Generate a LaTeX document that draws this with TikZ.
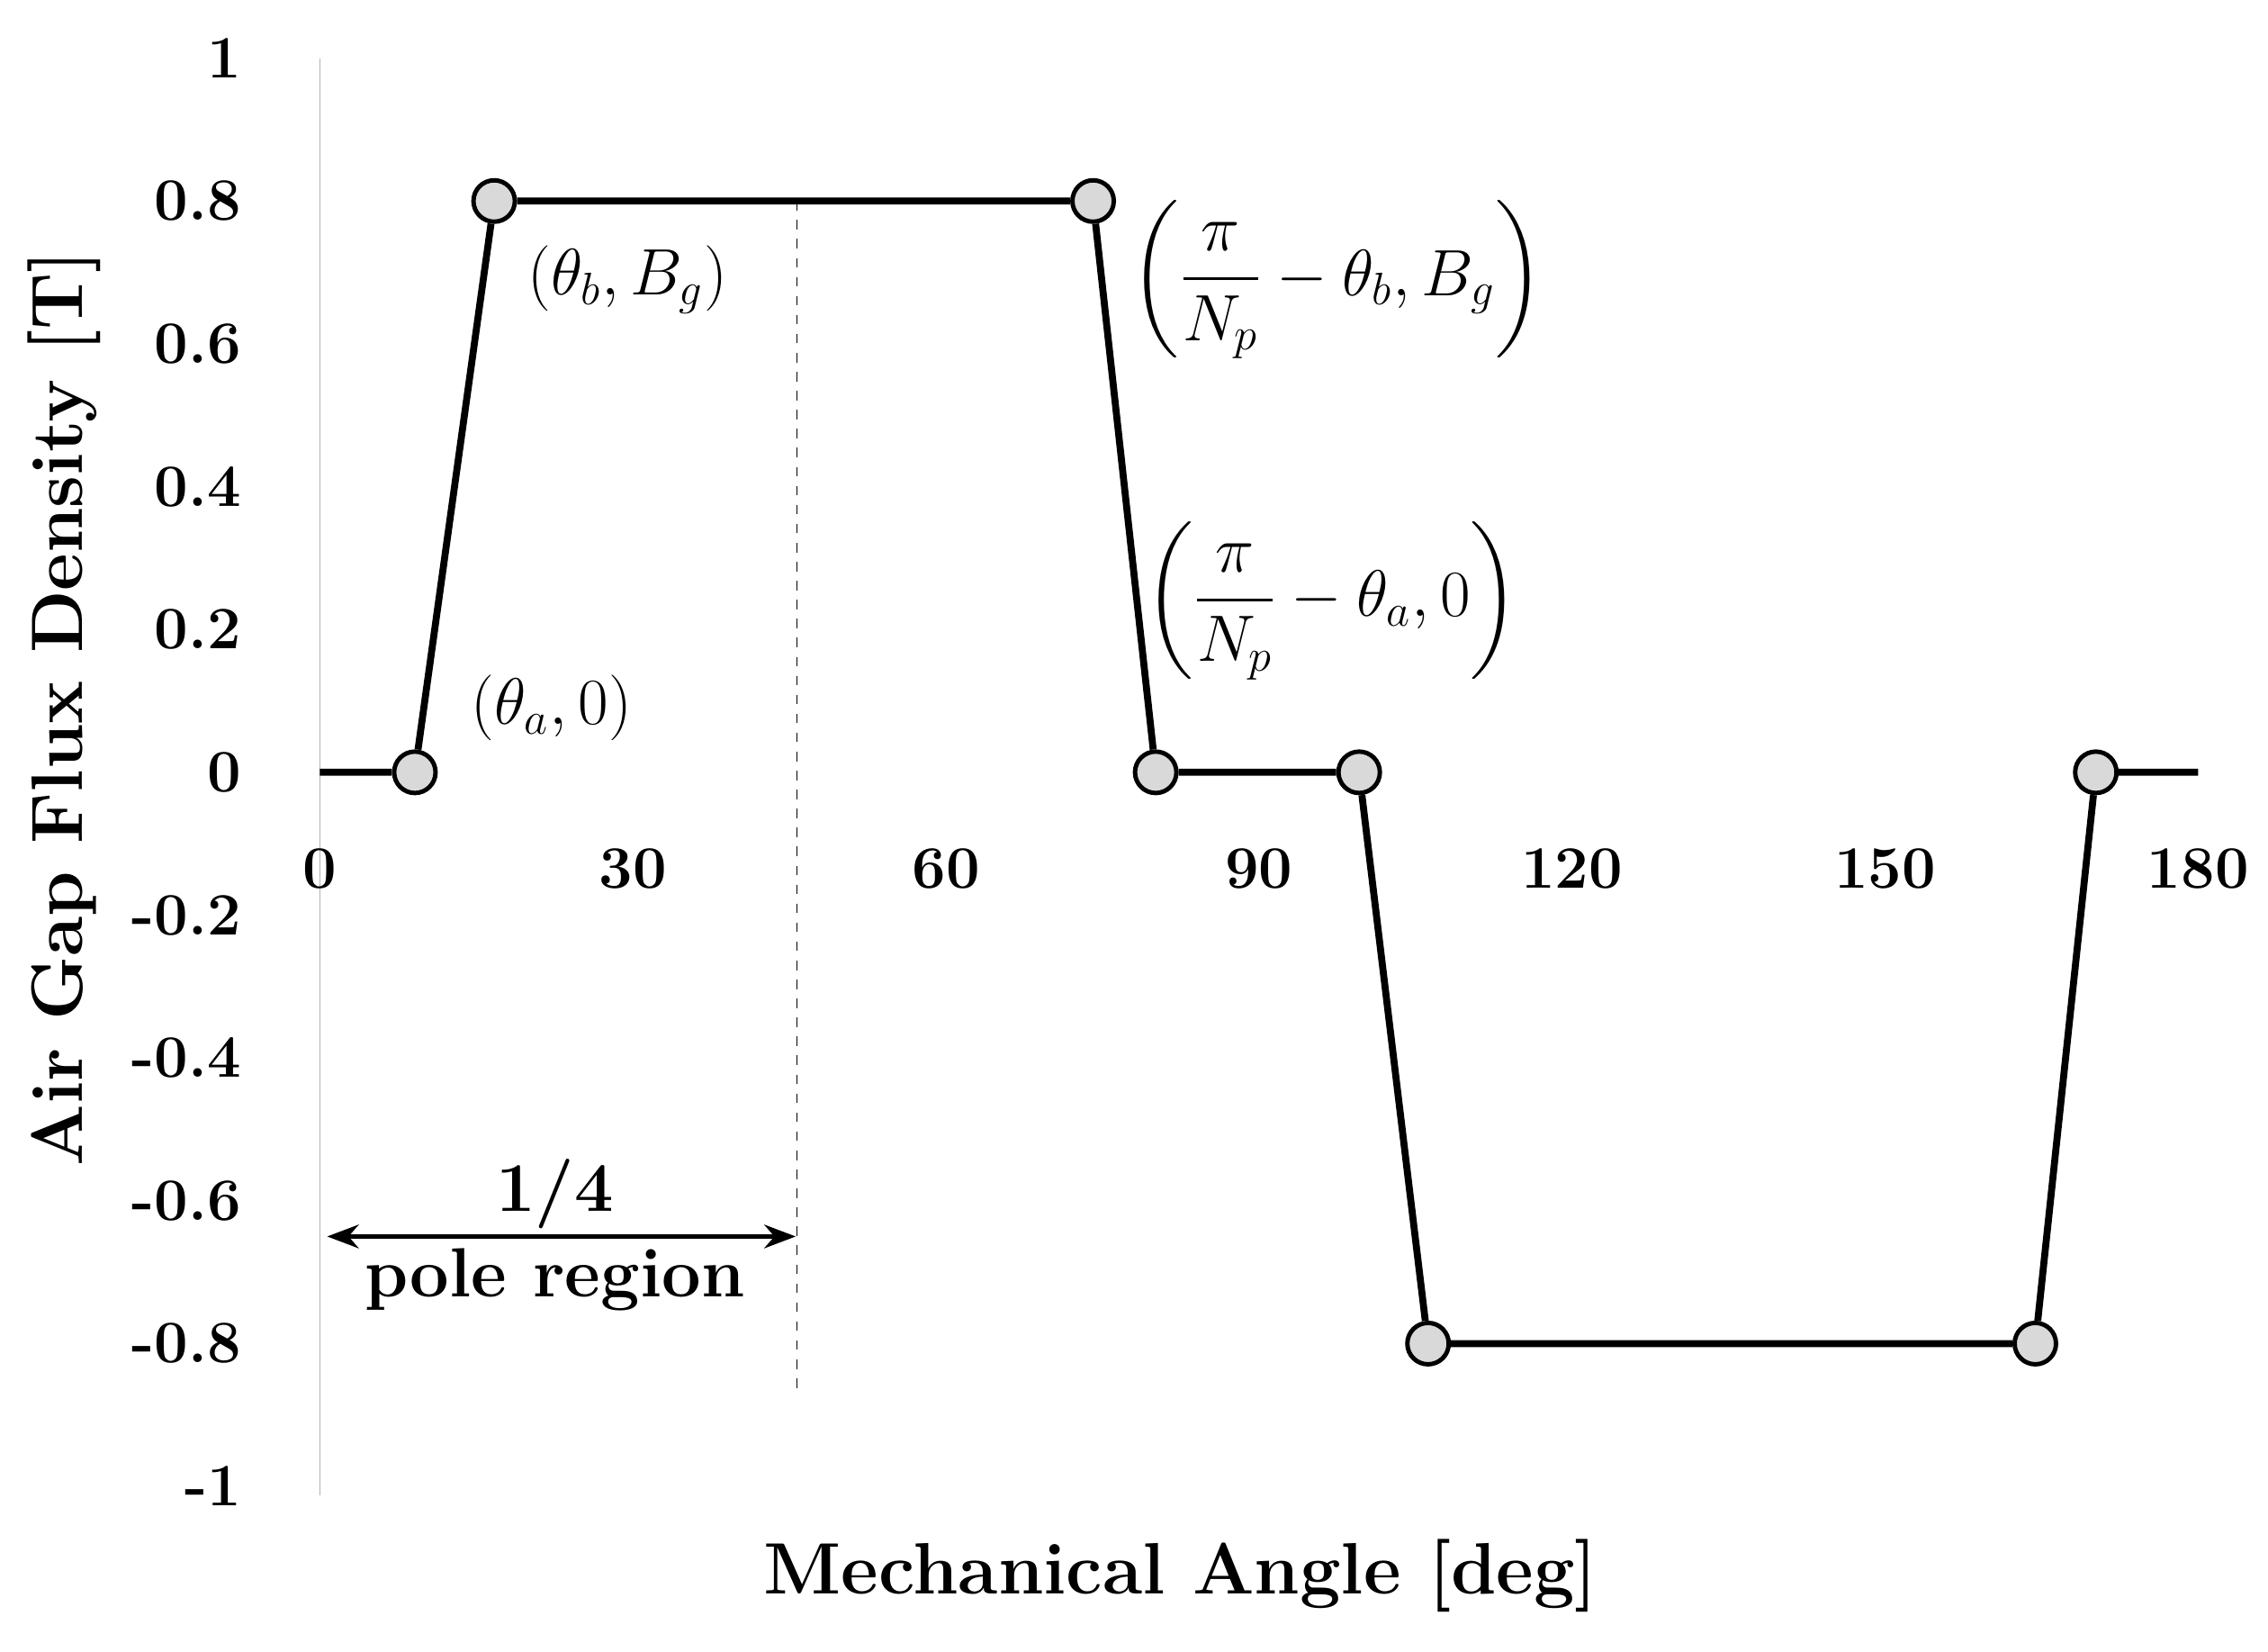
\documentclass[tikz,border=0pt]{standalone}
\usepackage{amsmath}
\usepackage{tikz}
\usetikzlibrary{arrows.meta}
\tikzset{
  tick/.style={font=\fontsize{19}{22}\selectfont\bfseries},
  dot/.style={circle, draw=black, line width=1.4pt, fill=gray!30, minimum size=0.46cm, inner sep=0pt},
  pt/.style={font=\fontsize{20}{24}\selectfont},
}
\begin{document}
\begin{tikzpicture}[x=0.1159cm, y=7.93cm]
\useasboundingbox (-30.66,-1.2318) rectangle (186.7,1.0815);
% axes
\coordinate (ytop) at (0,1); \coordinate (ybot) at (0,-1.013);
\draw[gray!60, thin] (ytop) -- (ybot);
\foreach \v/\t in {1/1,0.8/0.8,0.6/0.6,0.4/0.4,0.2/0.2,0/0,-0.2/-0.2,-0.4/-0.4,-0.6/-0.6,-0.8/-0.8,-1/-1}
  \node[tick, anchor=east] at (-6.5,\v) {\t};
\foreach \u in {0,30,...,180}
  \node[tick] at (\u,-0.135) {\u};
\node[font=\fontsize{23}{26}\selectfont\bfseries] at (82.5,-1.125) {Mechanical Angle [deg]};
\node[font=\fontsize{23}{26}\selectfont\bfseries, rotate=90] at (-24.5,0.09) {Air Gap Flux Density [T]};
% quarter pole
\coordinate (q0) at (0.7,-0.65); \coordinate (q1) at (45.6,-0.65);
\coordinate (dtop) at (45.7,0.8); \coordinate (dbot) at (45.7,-0.87);
\draw[dashed, thin] (dtop) -- (dbot);
\draw[{Stealth[length=3.5mm]}-{Stealth[length=3.5mm]}, line width=1.3pt] (q0) -- (q1);
\node[tick, font=\fontsize{22}{24}\selectfont\bfseries] at (22.5,-0.59) {1/4};
\node[tick, font=\fontsize{22}{24}\selectfont\bfseries] at (22.5,-0.71) {pole region};
% waveform
\coordinate (s) at (0,0); \coordinate (e) at (180,0);
\node[dot] (p1) at (9.1,0) {};
\node[dot] (p2) at (16.7,0.8) {};
\node[dot] (p3) at (74.1,0.8) {};
\node[dot] (p4) at (80.1,0) {};
\node[dot] (p5) at (99.6,0) {};
\node[dot] (p6) at (106.2,-0.8) {};
\node[dot] (p7) at (164.4,-0.8) {};
\node[dot] (p8) at (170.2,0) {};
\draw[line width=2.2pt] (s) -- (p1) -- (p2) -- (p3) -- (p4) -- (p5) -- (p6) -- (p7) -- (p8) -- (e);
% labels
\node[pt] at (29.5,0.69) {$(\theta_b,B_g)$};
\node[pt] at (22.2,0.09) {$(\theta_a,0)$};
\node[pt] at (97.5,0.69) {$\left(\dfrac{\pi}{N_p}-\theta_b,B_g\right)$};
\node[pt] at (97,0.24) {$\left(\dfrac{\pi}{N_p}-\theta_a,0\right)$};
\end{tikzpicture}
\end{document}
